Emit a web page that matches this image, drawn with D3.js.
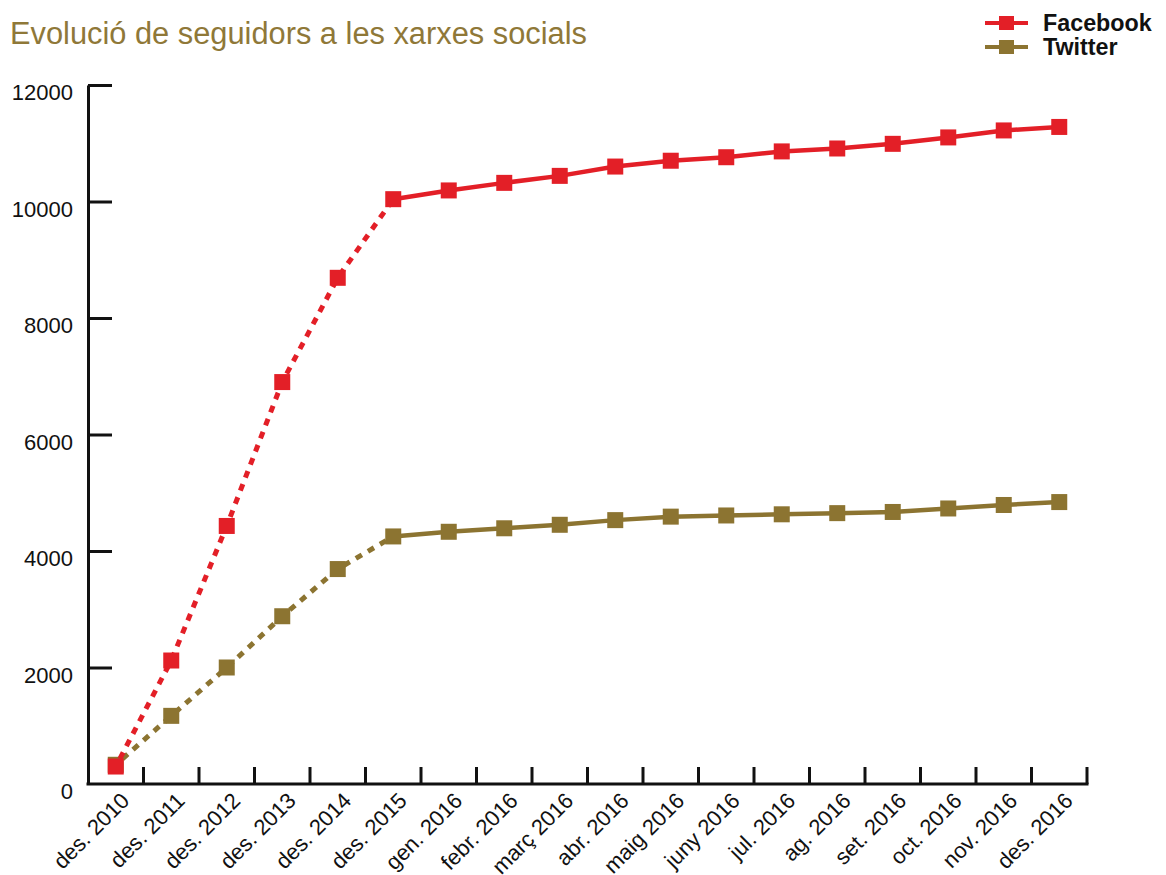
<!DOCTYPE html>
<html>
<head>
<meta charset="utf-8">
<script src="https://cdn.jsdelivr.net/npm/d3@7"></script>
<style>
  html, body { margin: 0; padding: 0; background: #fff; }
  svg { display: block; font-family: "Liberation Sans", Arial, Helvetica, sans-serif; }
</style>
</head>
<body>
<svg id="chart" width="1166" height="875"></svg>
<script>
const categories = ["des. 2010","des. 2011","des. 2012","des. 2013","des. 2014","des. 2015",
  "gen. 2016","febr. 2016","març 2016","abr. 2016","maig 2016","juny 2016","jul. 2016",
  "ag. 2016","set. 2016","oct. 2016","nov. 2016","des. 2016"];
const facebook = [300, 2120, 4430, 6900, 8690, 10040, 10190, 10320, 10440, 10600, 10700,
  10760, 10860, 10910, 10990, 11100, 11220, 11280];
const twitter = [330, 1170, 2000, 2880, 3690, 4250, 4330, 4390, 4450, 4530, 4590,
  4610, 4630, 4650, 4670, 4730, 4790, 4840];
const yTicks = [0, 2000, 4000, 6000, 8000, 10000, 12000];
const dottedUntil = 5; // index of "des. 2015": dotted before, solid after
const seriesNames = ["Facebook", "Twitter"];
const colors = { Facebook: "#e31f27", Twitter: "#8c7431" };

const svg = d3.select("#chart");
const mLeft = 88, mRight = 1087, mTop = 85, mBottom = 784;

const x = d3.scaleBand().domain(categories).range([mLeft, mRight]).padding(0);
const y = d3.scaleLinear().domain([0, 12000]).range([mBottom, mTop]);
const cx = d => x(d) + x.bandwidth() / 2;

// Title
svg.append("text").attr("x", 10).attr("y", 44)
  .attr("fill", "#8f7838").attr("font-size", 30.8)
  .text("Evolució de seguidors a les xarxes socials");

// Y axis
const yAxis = d3.axisLeft(y).tickValues(yTicks).tickSizeInner(-24).tickSizeOuter(0)
  .tickPadding(15).tickFormat(d3.format("d"));
const gy = svg.append("g").attr("transform", `translate(${mLeft},0)`).call(yAxis);
gy.select(".domain").attr("stroke", "#111").attr("stroke-width", 3);
gy.selectAll(".tick line").attr("stroke", "#111").attr("stroke-width", 3);
gy.selectAll(".tick text").attr("font-size", 22).attr("fill", "#111")
  .attr("font-family", "Liberation Sans, Arial, sans-serif").attr("dy", "0.68em");
gy.selectAll(".tick").filter(d => d === 0).select("line").remove();

// X axis (ticks at band boundaries)
const gx = svg.append("g");
gx.append("line").attr("x1", mLeft - 1.5).attr("x2", mRight + 1.5)
  .attr("y1", mBottom).attr("y2", mBottom).attr("stroke", "#111").attr("stroke-width", 3);
gx.selectAll("line.tk").data(categories).join("line").attr("class", "tk")
  .attr("x1", d => x(d) + x.bandwidth()).attr("x2", d => x(d) + x.bandwidth())
  .attr("y1", mBottom).attr("y2", mBottom - 17).attr("stroke", "#111").attr("stroke-width", 3);
gx.selectAll("text").data(categories).join("text")
  .attr("text-anchor", "end").attr("font-size", 22).attr("fill", "#111")
  .attr("transform", d => `translate(${cx(d) + 15},${mBottom + 18}) rotate(-45)`)
  .text(d => d);

// Series
const line = d3.line().x(d => cx(d.c)).y(d => y(d.v));
const data = {
  Facebook: categories.map((c, i) => ({ c, v: facebook[i] })),
  Twitter: categories.map((c, i) => ({ c, v: twitter[i] }))
};
["Twitter", "Facebook"].forEach(name => {
  const pts = data[name];
  const g = svg.append("g");
  g.append("path").datum(pts.slice(0, dottedUntil + 1)).attr("d", line)
    .attr("fill", "none").attr("stroke", colors[name]).attr("stroke-width", 5)
    .attr("stroke-dasharray", "7,7").attr("stroke-dashoffset", -9);
  g.append("path").datum(pts.slice(dottedUntil)).attr("d", line)
    .attr("fill", "none").attr("stroke", colors[name]).attr("stroke-width", 4.5);
  g.selectAll("rect").data(pts).join("rect")
    .attr("x", d => cx(d.c) - 8).attr("y", d => y(d.v) - 8)
    .attr("width", 16).attr("height", 16).attr("fill", colors[name]);
});

// Legend
seriesNames.forEach((name, i) => {
  const ly = 23 + i * 24;
  const g = svg.append("g");
  g.append("line").attr("x1", 985).attr("x2", 1028).attr("y1", ly).attr("y2", ly)
    .attr("stroke", colors[name]).attr("stroke-width", 4);
  g.append("rect").attr("x", 999).attr("y", ly - 7).attr("width", 15).attr("height", 14)
    .attr("fill", colors[name]);
  g.append("text").attr("x", 1043).attr("y", ly + 8).attr("font-size", 23.3)
    .attr("font-weight", "bold").attr("fill", "#111").text(name);
});
</script>
</body>
</html>
